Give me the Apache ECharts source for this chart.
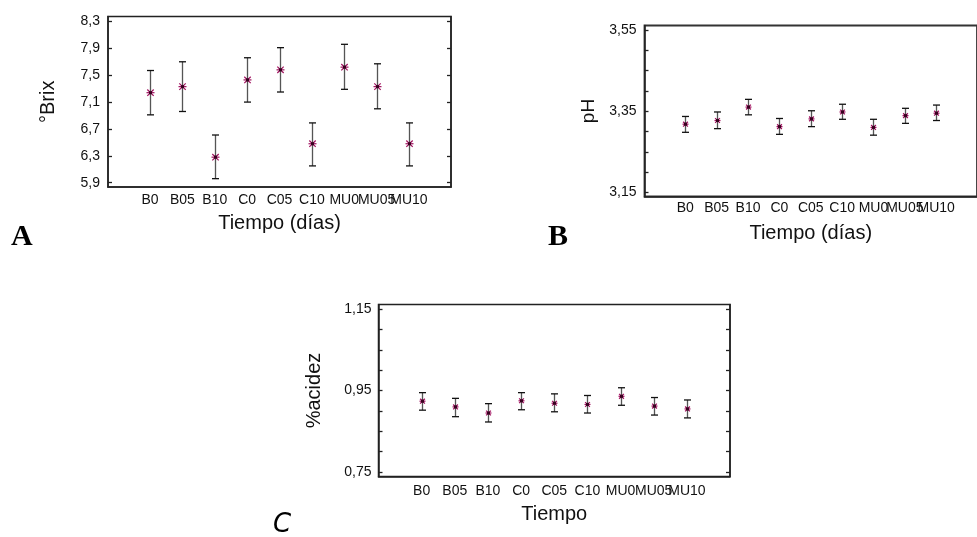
<!DOCTYPE html>
<html><head><meta charset="utf-8">
<script src="https://cdn.jsdelivr.net/npm/echarts@6/dist/echarts.min.js"></script>
<style>html,body{margin:0;padding:0;background:#fff}#c{width:977px;height:537px}</style>
</head><body><div id="c"></div>
<script>
const categories = ['B0','B05','B10','C0','C05','C10','MU0','MU05','MU10'];

const brixMean = [7.24, 7.33, 6.28, 7.43, 7.58, 6.48, 7.62, 7.33, 6.48];
const brixLow  = [6.91, 6.96, 5.96, 7.10, 7.25, 6.15, 7.29, 7.00, 6.15];
const brixHigh = [7.57, 7.70, 6.61, 7.76, 7.91, 6.79, 7.96, 7.67, 6.79];

const phMean = [3.318, 3.327, 3.360, 3.312, 3.331, 3.348, 3.310, 3.339, 3.345];
const phLow  = [3.298, 3.307, 3.341, 3.293, 3.312, 3.330, 3.291, 3.320, 3.327];
const phHigh = [3.337, 3.348, 3.379, 3.332, 3.351, 3.367, 3.330, 3.357, 3.365];

const acidMean = [0.924, 0.910, 0.895, 0.925, 0.919, 0.916, 0.936, 0.912, 0.905];
const acidLow  = [0.902, 0.886, 0.873, 0.903, 0.898, 0.895, 0.914, 0.890, 0.883];
const acidHigh = [0.945, 0.931, 0.918, 0.945, 0.942, 0.938, 0.957, 0.933, 0.927];

const brixTicks = [5.9, 6.3, 6.7, 7.1, 7.5, 7.9, 8.3];
const phTicks = [3.15, 3.20, 3.25, 3.30, 3.35, 3.40, 3.45, 3.50, 3.55];
const phLabels = [3.15, 3.35, 3.55];
const acidTicks = [0.75, 0.80, 0.85, 0.90, 0.95, 1.00, 1.05, 1.10, 1.15];
const acidLabels = [0.75, 0.95, 1.15];

const FONT = "'Liberation Sans', Arial, sans-serif";
const evenIdx = categories.map((c, i) => i).filter(i => i % 2 === 0);
const oddIdx = categories.map((c, i) => i).filter(i => i % 2 === 1);

function rows(mean, low, high) {
  return categories.map((c, i) => [i, mean[i], low[i], high[i]]);
}
function fmtComma(d) {
  return function (v) { return v.toFixed(d).replace('.', ','); };
}

function makeRender(markR, capW) {
  return function (params, api) {
    const x = api.value(0);
    const pm = api.coord([x, api.value(1)]);
    const pl = api.coord([x, api.value(2)]);
    const ph = api.coord([x, api.value(3)]);
    const cx = Math.round(pm[0]) + 0.5;
    const lineStyle = { stroke: '#555', lineWidth: 1.3 };
    const capStyle = { stroke: '#111', lineWidth: 1.3 };
    const mk = { stroke: '#a0105e', lineWidth: 1.2 };
    const r = markR, d = markR * 0.8;
    return {
      type: 'group',
      children: [
        { type: 'line', shape: { x1: cx, y1: pl[1], x2: cx, y2: ph[1] }, style: lineStyle },
        { type: 'line', shape: { x1: cx - capW, y1: pl[1], x2: cx + capW, y2: pl[1] }, style: capStyle },
        { type: 'line', shape: { x1: cx - capW, y1: ph[1], x2: cx + capW, y2: ph[1] }, style: capStyle },
        { type: 'line', shape: { x1: cx - r, y1: pm[1], x2: cx + r, y2: pm[1] }, style: mk },
        { type: 'line', shape: { x1: cx - d, y1: pm[1] - d, x2: cx + d, y2: pm[1] + d }, style: mk },
        { type: 'line', shape: { x1: cx - d, y1: pm[1] + d, x2: cx + d, y2: pm[1] - d }, style: mk },
        { type: 'rect', shape: { x: cx - 1.5, y: pm[1] - 1.5, width: 3, height: 3 }, style: { fill: '#3a0020' } }
      ]
    };
  };
}

function xAxisFor(gridIndex, name, margin, nameGap, idx, primary) {
  return {
    type: 'value', gridIndex: gridIndex, min: -1.3, max: 9.3, position: 'bottom', offset: 0,
    name: primary ? name : '', nameLocation: 'middle', nameGap: nameGap,
    nameTextStyle: { fontFamily: FONT, fontSize: 20, color: '#111' },
    axisLine: { show: primary, onZero: false, lineStyle: { color: '#222', width: 1.5 } },
    axisTick: { show: false },
    splitLine: { show: false },
    axisLabel: {
      customValues: idx, margin: margin, fontFamily: FONT, fontSize: 14, color: '#111',
      showMinLabel: true, showMaxLabel: true,
      formatter: function (v) { return categories[Math.round(v)]; }
    }
  };
}
function yAxisFor(gridIndex, min, max, ticks, labels, dec, name, nameGap, nameSize, margin) {
  return {
    type: 'value', gridIndex: gridIndex, min: min, max: max, position: 'left',
    name: name, nameLocation: 'middle', nameGap: nameGap,
    nameTextStyle: { fontFamily: FONT, fontSize: nameSize, color: '#111' },
    axisLine: { show: true, onZero: false, lineStyle: { color: '#222', width: 1.5 } },
    axisTick: { show: true, inside: true, length: 4, customValues: ticks, lineStyle: { color: '#222', width: 1.3 } },
    splitLine: { show: false },
    axisLabel: { customValues: labels, margin: margin, fontFamily: FONT, fontSize: 14, color: '#111',
      showMinLabel: true, showMaxLabel: true, formatter: fmtComma(dec) }
  };
}
function yRightFor(gridIndex, min, max, ticks) {
  return {
    type: 'value', gridIndex: gridIndex, min: min, max: max, position: 'right',
    axisLine: { show: true, onZero: false, lineStyle: { color: '#222', width: 1.5 } },
    axisTick: { show: true, inside: true, length: 4, customValues: ticks, lineStyle: { color: '#222', width: 1.3 } },
    splitLine: { show: false },
    axisLabel: { show: false }
  };
}

const option = {
  animation: false,
  backgroundColor: '#fff',
  grid: [
    { left: 108, top: 16.5, width: 343, height: 170.5, show: true, borderColor: '#222', borderWidth: 1.5 },
    { left: 644.5, top: 25.5, width: 341, height: 171, show: true, borderColor: '#333', borderWidth: 1.8 },
    { left: 378.5, top: 304.5, width: 351.5, height: 172, show: true, borderColor: '#222', borderWidth: 1.5 }
  ],
  xAxis: [
    xAxisFor(0, 'Tiempo (días)', 6, 26, evenIdx, true),
    xAxisFor(0, 'Tiempo (días)', 6, 26, oddIdx, false),
    xAxisFor(1, 'Tiempo (días)', 5, 27, evenIdx, true),
    xAxisFor(1, 'Tiempo (días)', 5, 27, oddIdx, false),
    xAxisFor(2, 'Tiempo', 8, 28, evenIdx, true),
    xAxisFor(2, 'Tiempo', 8, 28, oddIdx, false)
  ],
  yAxis: [
    yAxisFor(0, 5.836, 8.374, brixTicks, brixTicks, 1, '°Brix', 50, 20, 8),
    yAxisFor(1, 3.1402, 3.5606, phTicks, phLabels, 2, 'pH', 46, 19, 8),
    yAxisFor(2, 0.7392, 1.1613, acidTicks, acidLabels, 2, '%acidez', 54, 20, 7),
    yRightFor(0, 5.836, 8.374, brixTicks),
    yRightFor(2, 0.7392, 1.1613, acidTicks)
  ],
  series: [
    { type: 'custom', xAxisIndex: 0, yAxisIndex: 0, data: rows(brixMean, brixLow, brixHigh), renderItem: makeRender(4, 3.5), clip: false },
    { type: 'custom', xAxisIndex: 2, yAxisIndex: 1, data: rows(phMean, phLow, phHigh), renderItem: makeRender(3, 3.5), clip: false },
    { type: 'custom', xAxisIndex: 4, yAxisIndex: 2, data: rows(acidMean, acidLow, acidHigh), renderItem: makeRender(3, 3.5), clip: false }
  ],
  graphic: [
    { type: 'text', left: 11, top: 222, style: { text: 'A', font: "bold 30px 'Liberation Serif', 'Times New Roman', serif", fill: '#000' } },
    { type: 'text', left: 548, top: 222, style: { text: 'B', font: "bold 30px 'Liberation Serif', 'Times New Roman', serif", fill: '#000' } },
    { type: 'text', left: 273, top: 512, style: { text: 'C', font: "italic 26px 'DejaVu Sans', sans-serif", fill: '#000' } }
  ]
};

const chart = echarts.init(document.getElementById('c'), null, { renderer: 'canvas' });
chart.setOption(option);
</script>
</body></html>
